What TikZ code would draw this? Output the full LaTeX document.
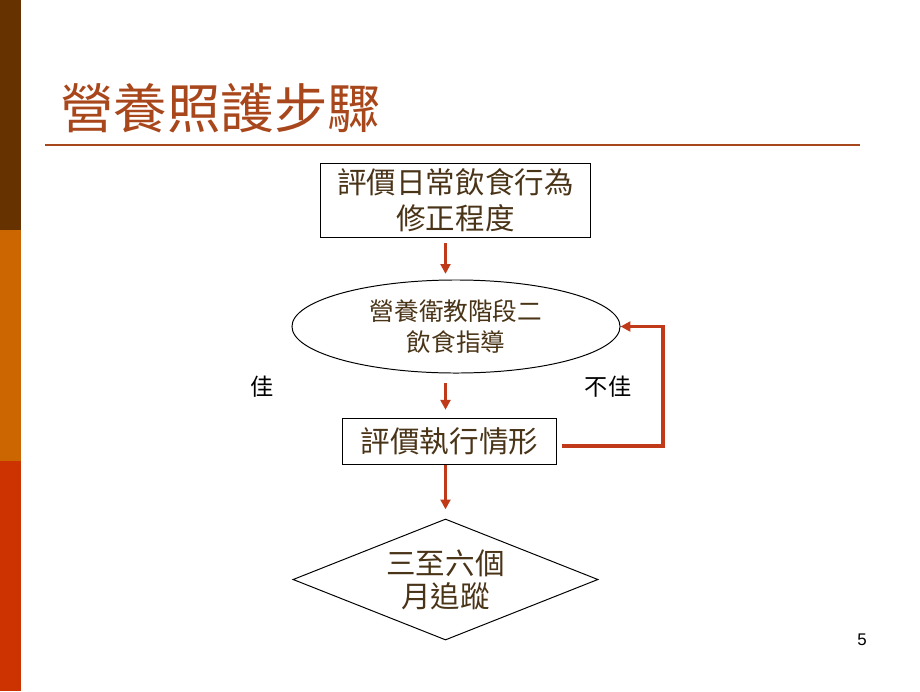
\documentclass[tikz,border=0pt]{standalone}
\usepackage{fontspec}
\setmainfont{Liberation Sans}
\newfontfamily\cjk{Noto Sans CJK TC}
\usetikzlibrary{shapes.geometric, arrows.meta}
\definecolor{barbrown}{HTML}{663300}
\definecolor{barorange}{HTML}{CC6600}
\definecolor{barred}{HTML}{CC3300}
\definecolor{titlered}{HTML}{A9471C}
\definecolor{inkbrown}{HTML}{4A3418}
\definecolor{arrowred}{HTML}{C03A1A}
\tikzset{
  stepbox/.style={rectangle, draw, line width=0.7pt, inner sep=0pt, align=center, text=inkbrown, font=\cjk\fontsize{21}{25.5}\selectfont},
  eduoval/.style={ellipse, draw, line width=0.7pt, inner sep=0pt, minimum width=8.2cm, minimum height=2.325cm, align=center, text=inkbrown, font=\cjk\fontsize{17.5}{22}\selectfont},
  trackdiamond/.style={diamond, draw, line width=0.7pt, inner sep=0pt, aspect=2.5, minimum width=7.625cm, minimum height=3.025cm, align=center, text=inkbrown, font=\cjk\fontsize{21}{23.5}\selectfont},
  note/.style={inner sep=0pt, font=\cjk\fontsize{16.5}{18}\selectfont},
  flow/.style={-{Triangle[width=7pt, length=7pt]}, line width=2pt, draw=arrowred},
}

\begin{document}
\begin{tikzpicture}[x=0.025cm, y=-0.025cm]
  \useasboundingbox (0,0) rectangle (920,691);

  % side bars
  \fill[barbrown] (0,0) rectangle (21,230);
  \fill[barorange] (0,230) rectangle (21,461);
  \fill[barred] (0,461) rectangle (21,691);

  % title
  \node[anchor=base west, inner sep=0pt, text=titlered, font=\cjk\fontsize{38}{40}\selectfont] (title) at (60,128) {營養照護步驟};
  \draw[titlered, line width=1.4pt] (45,145) -- (860,145);

  % steps
  \node[stepbox, minimum width=6.725cm, minimum height=1.85cm] (habit) at (455.5,200) {評價日常飲食行為\\修正程度};
  \node[eduoval] (edu) at (456,326.5) {營養衛教階段二\\飲食指導};
  \node[stepbox, minimum width=5.325cm, minimum height=1.15cm] (review) at (449.5,441) {評價執行情形};
  \node[trackdiamond] (track) at (445.5,579.5) {三至六個\\月追蹤};

  \node[note] (good) at (262,387) {佳};
  \node[note] (poor) at (608,387) {不佳};
  \node[font=\fontsize{12}{14}\selectfont] (page) at (862,640) {5};

  \coordinate (bend) at (663,446);
  \draw[flow, shorten <=4pt, shorten >=4pt] (habit.south -| track.north) -- (edu.north -| track.north);
  \draw[flow, shorten <=7pt, shorten >=5.5pt] (edu.south -| track.north) -- (review.north -| track.north);
  \draw[flow, shorten >=6.5pt] (review.south -| track.north) -- (track.north);
  \draw[flow, line width=2.6pt, shorten <=4pt] (review.east |- bend) -- (bend) |- (edu.east);
\end{tikzpicture}
\end{document}
